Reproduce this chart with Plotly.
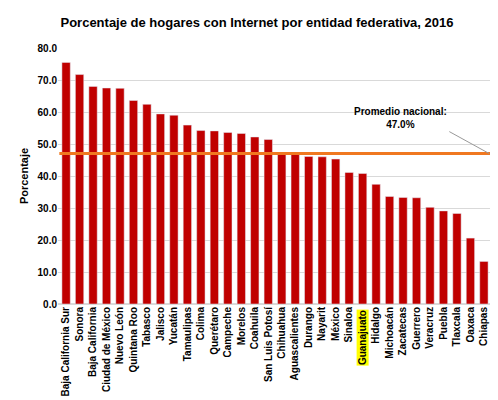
import plotly.graph_objects as go

estados = ["Baja California Sur","Sonora","Baja California","Ciudad de México","Nuevo León","Quintana Roo","Tabasco","Jalisco","Yucatán","Tamaulipas","Colima","Querétaro","Campeche","Morelos","Coahuila","San Luis Potosí","Chihuahua","Aguascalientes","Durango","Nayarit","México","Sinaloa","Guanajuato","Hidalgo","Michoacán","Zacatecas","Guerrero","Veracruz","Puebla","Tlaxcala","Oaxaca","Chiapas"]
valores = [75.5,71.7,68.0,67.5,67.4,63.6,62.4,59.4,59.0,55.9,54.2,54.1,53.6,53.3,52.2,51.4,47.1,46.8,46.1,46.0,45.3,41.1,40.8,37.4,33.6,33.3,33.2,30.2,29.1,28.3,20.6,13.3]
promedio = 47.0
destacado = "Guanajuato"
yticks = [0, 10, 20, 30, 40, 50, 60, 70, 80]

ticktext = ["" if e == destacado else "<b>%s</b>" % e for e in estados]
fig = go.Figure(go.Bar(x=list(range(len(estados))), y=valores, marker_color="#C00000", width=0.62))
fig.add_shape(type="line", xref="x", yref="y", x0=-0.5, x1=len(estados)-0.5, y0=promedio, y1=promedio,
              line=dict(color="#F07820", width=3))
fig.add_annotation(x=len(estados)-0.6, y=promedio, ax=-40, ay=-22, text="<b>Promedio nacional:<br>47.0%</b>",
                   showarrow=True, arrowhead=0, arrowcolor="#999", arrowwidth=1,
                   font=dict(size=10, color="black", family="Liberation Sans"), xanchor="right", yanchor="bottom")
i = estados.index(destacado)
fig.add_annotation(x=i, y=0, yref="y", text="<b>%s</b>" % destacado, textangle=-90, showarrow=False, yshift=-5,
                   xanchor="center", yanchor="top", bgcolor="#FFFF00", borderpad=0,
                   font=dict(size=10, color="black", family="Liberation Sans"))
fig.update_layout(
    width=498, height=400, paper_bgcolor="white", plot_bgcolor="white",
    margin=dict(l=50, r=14, t=40, b=92), showlegend=False, bargap=0.38,
    title=dict(text="<b>Porcentaje de hogares con Internet por entidad federativa, 2016</b>", x=0.5, y=0.975,
               font=dict(size=13, color="black", family="Liberation Sans")),
    font=dict(family="Liberation Sans", color="black"),
)
fig.update_xaxes(tickmode="array", tickvals=list(range(len(estados))), ticktext=ticktext, tickangle=-90,
                 tickfont=dict(size=10), range=[-0.6, len(estados)-0.4], showline=False)
fig.update_yaxes(range=[0, 80], tickmode="array", tickvals=yticks, ticktext=["<b>%.1f</b>" % v for v in yticks],
                 showgrid=True, gridcolor="#d9d9d9",
                 zeroline=True, zerolinecolor="#d9d9d9", tickfont=dict(size=10),
                 title=dict(text="<b>Porcentaje</b>", font=dict(size=11), standoff=6))
fig.write_html("out.html")
